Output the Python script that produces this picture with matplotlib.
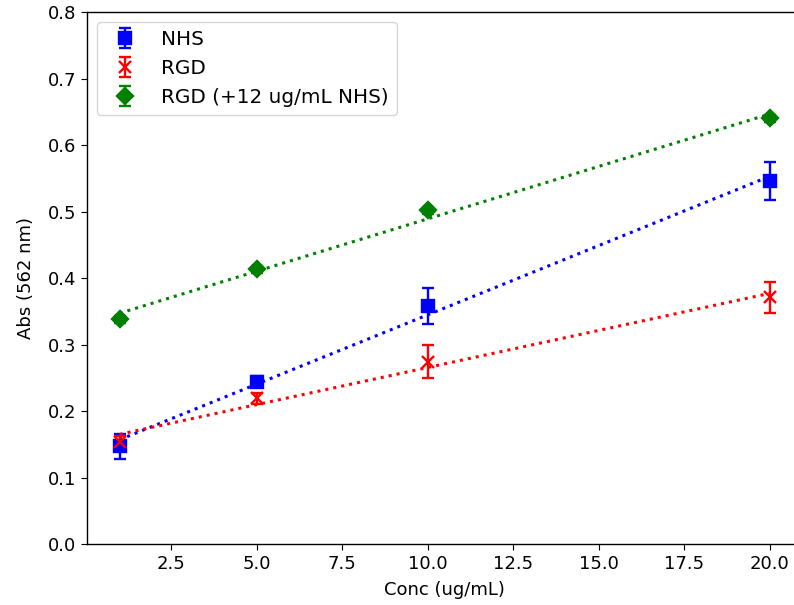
import numpy as np
import matplotlib
matplotlib.use("Agg")
import matplotlib.pyplot as plt

conc = [1, 5, 10, 20]
nhs = [0.147, 0.244, 0.358, 0.546]
nhs_err = [0.019, 0.008, 0.027, 0.029]
rgd = [0.153, 0.219, 0.274, 0.371]
rgd_err = [0.010, 0.008, 0.025, 0.023]
rgd_nhs = [0.338, 0.413, 0.502, 0.640]
rgd_nhs_err = [0.005, 0.005, 0.005, 0.005]

plt.rcParams['font.size'] = 13
plt.rcParams['xtick.major.size'] = 4.5
plt.rcParams['ytick.major.size'] = 4.5
plt.rcParams['axes.linewidth'] = 1.0
fig = plt.figure(figsize=(7.94, 6.05), dpi=100)
ax = fig.add_axes([0.1097, 0.1008, 0.901, 0.8793])

series = [
    (nhs, nhs_err, 'blue', 's', 'NHS'),
    (rgd, rgd_err, 'red', 'x', 'RGD'),
    (rgd_nhs, rgd_nhs_err, 'green', 'D', 'RGD (+12 ug/mL NHS)'),
]
x = np.array(conc, dtype=float)
for y, e, c, m, lab in series:
    ax.errorbar(x, y, yerr=e, fmt=m, color=c, capsize=4.3, markersize=8.5,
                mew=1.7, elinewidth=1.7, capthick=1.7, label=lab)
    p = np.polyfit(x, y, 1)
    ax.plot(x, np.polyval(p, x), ':', color=c, lw=2.2)

ax.set_xlim(0.05, 20.95)
ax.set_ylim(0, 0.8)
ax.set_xlabel('Conc (ug/mL)', labelpad=6)
ax.set_ylabel('Abs (562 nm)', labelpad=9)
ax.legend(loc='upper left', fontsize=14.4)
fig.savefig('out.png', dpi=100)
